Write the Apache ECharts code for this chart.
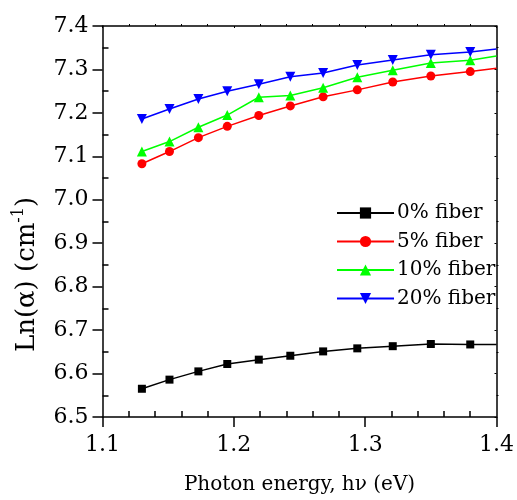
<!DOCTYPE html>
<html>
<head>
<meta charset="utf-8">
<script type="text/javascript" src="https://cdn.jsdelivr.net/npm/echarts@6/dist/echarts.min.js"></script>
</head>
<body style="margin:0">
<div id="main" style="width:517px;height:500px;"></div>
<script type="text/javascript">
// photon energy (eV), last entry is where the curves leave the frame
var energy = [1.130, 1.151, 1.173, 1.195, 1.219, 1.243, 1.268, 1.294, 1.321, 1.350, 1.380, 1.400];
var fiber0 = [6.565, 6.586, 6.605, 6.622, 6.632, 6.641, 6.651, 6.658, 6.663, 6.668, 6.667, 6.667];
var fiber5 = [7.083, 7.111, 7.143, 7.169, 7.194, 7.216, 7.237, 7.253, 7.271, 7.285, 7.295, 7.303];
var fiber10 = [7.111, 7.134, 7.167, 7.195, 7.236, 7.240, 7.258, 7.282, 7.298, 7.315, 7.321, 7.331];
var fiber20 = [7.186, 7.209, 7.232, 7.250, 7.266, 7.283, 7.292, 7.310, 7.322, 7.334, 7.340, 7.347];
var names = ['0% fiber', '5% fiber', '10% fiber', '20% fiber'];

var myChart = echarts.init(document.getElementById('main'));
var font = 'DejaVu Serif';

function pts(vals) {
    return vals.map(function (v, i) {
        var p = { value: [energy[i], v] };
        if (i == vals.length - 1) p.symbol = 'none';
        return p;
    });
}

function mk(name, vals, color, symbol, size, rot) {
    return {
        name: name,
        type: 'line',
        data: pts(vals),
        symbol: symbol,
        symbolSize: size,
        symbolRotate: rot,
        showAllSymbol: true,
        lineStyle: { color: color, width: 1.5 },
        itemStyle: { color: color },
        clip: true
    };
}

var option = {
    animation: false,
    backgroundColor: '#fff',
    textStyle: { fontFamily: font },
    grid: { left: 102.5, right: 17, top: 26, bottom: 80 },
    legend: {
        data: names,
        orient: 'vertical',
        left: 331,
        top: 198,
        itemWidth: 57,
        itemHeight: 14,
        itemGap: 8.5,
        textStyle: { fontFamily: font, fontSize: 20, color: '#000', padding: [0, 0, 0, -2] }
    },
    xAxis: [{
        type: 'value',
        min: 1.1, max: 1.4, interval: 0.1,
        name: 'Photon energy, h\u03bd (eV)',
        nameLocation: 'middle',
        nameGap: 58,
        nameTextStyle: { fontFamily: font, fontSize: 20, color: '#000' },
        axisLine: { lineStyle: { color: '#000', width: 1.5 } },
        axisTick: { inside: false, length: 10, lineStyle: { color: '#000', width: 1.5 } },
        minorTick: { show: true, splitNumber: 5, length: -6, lineStyle: { color: '#000', width: 1.5 } },
        axisLabel: { margin: 17, fontFamily: font, fontSize: 22, color: '#000',
            formatter: function (v) { return v.toFixed(1); } },
        splitLine: { show: false }
    }, {
        type: 'value', position: 'top',
        min: 1.1, max: 1.4, interval: 0.1,
        axisLine: { lineStyle: { color: '#000', width: 1.5 } },
        axisTick: { inside: true, length: 2, lineStyle: { color: '#000' } },
        minorTick: { show: true, splitNumber: 5, length: -2, lineStyle: { color: '#000' } },
        axisLabel: { show: false },
        splitLine: { show: false }
    }],
    yAxis: [{
        type: 'value',
        min: 6.5, max: 7.4, interval: 0.1,
        name: '{a|Ln(\u03b1) (cm}{s|-1}{a|)}',
        nameLocation: 'middle',
        nameGap: 62,
        nameRotate: 90,
        nameTextStyle: {
            padding: [0, 106, 0, 0],
            rich: {
                a: { fontFamily: font, fontSize: 26, color: '#000', lineHeight: 30, verticalAlign: 'bottom' },
                s: { fontFamily: font, fontSize: 16, color: '#000', lineHeight: 30, verticalAlign: 'top' }
            }
        },
        axisLine: { lineStyle: { color: '#000', width: 1.5 } },
        axisTick: { inside: false, length: 10, lineStyle: { color: '#000', width: 1.5 } },
        minorTick: { show: true, splitNumber: 2, length: -6, lineStyle: { color: '#000', width: 1.5 } },
        axisLabel: { margin: 14, fontFamily: font, fontSize: 22, color: '#000',
            formatter: function (v) { return v.toFixed(1); } },
        splitLine: { show: false }
    }, {
        type: 'value', position: 'right',
        min: 6.5, max: 7.4, interval: 0.1,
        axisLine: { lineStyle: { color: '#000', width: 1.5 } },
        axisTick: { inside: true, length: 2, lineStyle: { color: '#000' } },
        minorTick: { show: true, splitNumber: 2, length: -2, lineStyle: { color: '#000' } },
        axisLabel: { show: false },
        splitLine: { show: false }
    }],
    series: [
        mk(names[0], fiber0, '#000000', 'rect', 8, 0),
        mk(names[1], fiber5, '#ff0000', 'circle', 9, 0),
        mk(names[2], fiber10, '#00ff00', 'triangle', 10, 0),
        mk(names[3], fiber20, '#0000ff', 'triangle', 10, 180)
    ]
};
myChart.setOption(option);
</script>
</body>
</html>
